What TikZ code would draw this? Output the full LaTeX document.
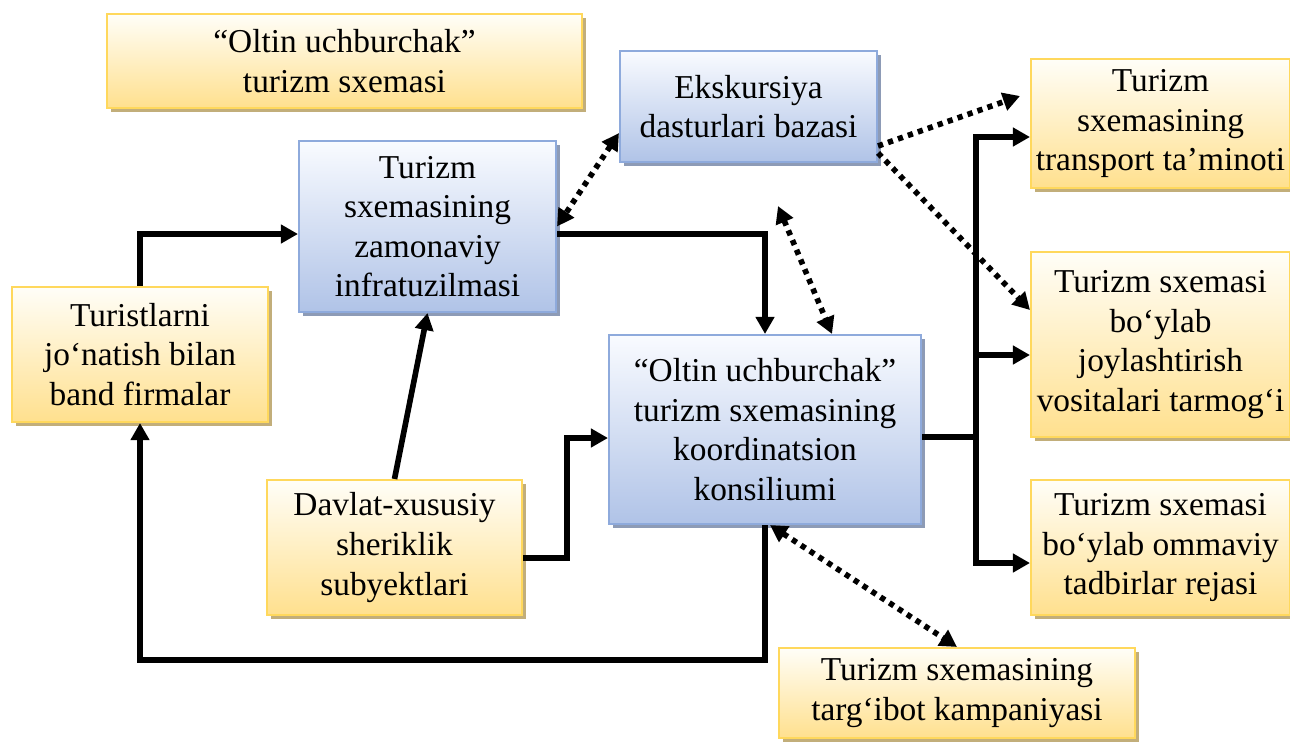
\documentclass[tikz,border=0pt]{standalone}
\usepackage{fontspec}
\setmainfont{Liberation Serif}
\usetikzlibrary{arrows.meta,shadows}
\definecolor{yTop}{HTML}{FFFEF8}
\definecolor{yBot}{HTML}{FFE08E}
\definecolor{yLine}{HTML}{FFD85C}
\definecolor{yShade}{HTML}{C2AE7A}
\definecolor{bTop}{HTML}{F9FBFF}
\definecolor{bBot}{HTML}{B0C3E7}
\definecolor{bLine}{HTML}{8EAADC}
\definecolor{bShade}{HTML}{8D9BB6}
\newcommand{\boxFont}[0]{\fontsize{19}{22.5}\selectfont}

\begin{document}
\begin{tikzpicture}[x=0.02cm, y=-0.02cm]
  \tikzset{
    box/.style={rectangle, align=center, inner sep=0pt, line width=1.2pt, font=\boxFont},
    ybox/.style={box, draw=yLine, top color=yTop, bottom color=yBot,
      drop shadow={shadow xshift=0.08cm, shadow yshift=-0.08cm, opacity=1, fill=yShade}},
    bbox/.style={box, draw=bLine, top color=bTop, bottom color=bBot,
      drop shadow={shadow xshift=0.08cm, shadow yshift=-0.08cm, opacity=1, fill=bShade}},
    conn/.style={line width=3.2pt, -{Triangle[length=0.34cm, width=0.36cm]}},
    dots/.style={conn, dash pattern=on 3pt off 3pt},
    twoway/.style={dots, {Triangle[length=0.34cm, width=0.36cm]}-{Triangle[length=0.34cm, width=0.36cm]}}
  }
  \useasboundingbox (0,0) rectangle (1290,744);
  \node[ybox, minimum width=9.5cm, minimum height=1.88cm] (title) at (344.5,61)
    {“Oltin uchburchak”\\turizm sxemasi};
  \node[bbox, minimum width=5.14cm, minimum height=2.22cm] (eks) at (748.5,106.5)
    {Ekskursiya\\dasturlari bazasi};
  \node[bbox, minimum width=5.14cm, minimum height=3.42cm] (infra) at (427.5,226.5)
    {Turizm\\sxemasining\\zamonaviy\\infratuzilmasi};
  \node[ybox, minimum width=5.12cm, minimum height=2.7cm] (turist) at (140,354.5)
    {Turistlarni\\jo‘natish bilan\\band firmalar};
  \node[bbox, minimum width=6.24cm, minimum height=3.78cm] (koord) at (765,429.5)
    {“Oltin uchburchak”\\turizm sxemasining\\koordinatsion\\konsiliumi};
  \node[ybox, minimum width=5.1cm, minimum height=2.7cm] (davlat) at (394.5,547.5)
    {Davlat-xususiy\\sheriklik\\subyektlari};
  \node[ybox, minimum width=5.18cm, minimum height=2.58cm] (transport) at (1160.5,123.5)
    {Turizm\\sxemasining\\transport ta’minoti};
  \node[ybox, minimum width=5.18cm, minimum height=3.7cm] (joyl) at (1160.5,344.5)
    {Turizm sxemasi\\bo‘ylab\\joylashtirish\\vositalari tarmog‘i};
  \node[ybox, minimum width=5.18cm, minimum height=2.7cm] (tadbir) at (1160.5,547.5)
    {Turizm sxemasi\\bo‘ylab ommaviy\\tadbirlar rejasi};
  \node[ybox, minimum width=7.12cm, minimum height=1.8cm] (targ) at (957,693)
    {Turizm sxemasining\\targ‘ibot kampaniyasi};

  \coordinate (loop) at (140,660);
  \coordinate (tip) at (1020,96);
  \coordinate (free) at (778,206);

  \draw[conn] (turist.north) |- ([yshift=-0.15cm]infra.west);
  \draw[conn] (davlat.north) -- (infra.south);
  \draw[conn] ([yshift=-0.21cm]davlat.east) -- ++(44,0) |- ([yshift=-0.17cm]koord.west);
  \draw[conn] ([yshift=-0.15cm]infra.east) -| (koord.north);
  \draw[conn] (koord.south) |- (loop) -- (turist.south);
  \draw[line width=3.2pt] ([yshift=-0.15cm]koord.east) -- ++(54,0) coordinate (bus);
  \draw[conn] (bus) |- ([yshift=-0.27cm]transport.west);
  \draw[conn] (bus) |- ([yshift=-0.21cm]joyl.west);
  \draw[conn] (bus) |- ([yshift=-0.31cm]tadbir.west);

  \draw[twoway] ([yshift=-0.53cm]eks.west) -- (infra.east);
  \draw[dots] ([yshift=-0.79cm]eks.east) -- (tip);
  \draw[dots] ([yshift=-0.93cm]eks.east) -- ([yshift=0.69cm]joyl.west);
  \draw[twoway] (free) -- ([xshift=1.34cm]koord.north);
  \draw[twoway] ([xshift=0.1cm]koord.south) -- (targ.north);
\end{tikzpicture}
\end{document}
